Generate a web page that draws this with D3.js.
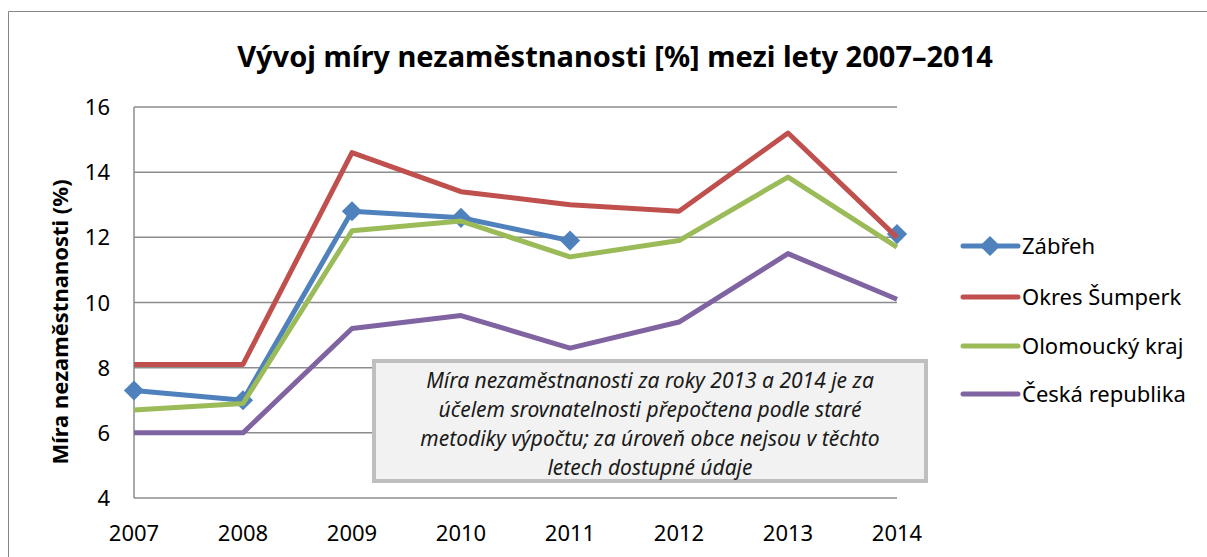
<!DOCTYPE html>
<html>
<head>
<meta charset="utf-8">
<script src="https://cdn.jsdelivr.net/npm/d3@7"></script>
<style>
  body { margin: 0; background: #fff; }
  svg { font-family: "Noto Sans", "Open Sans", sans-serif; }
</style>
</head>
<body>
<div id="chart"></div>
<script>
// data
var years = [2007, 2008, 2009, 2010, 2011, 2012, 2013, 2014];
var zabreh = [7.3, 7.0, 12.8, 12.6, 11.9, null, null, 12.1];
var sumperk = [8.1, 8.1, 14.6, 13.4, 13.0, 12.8, 15.2, 12.0];
var olomoucky = [6.7, 6.9, 12.2, 12.5, 11.4, 11.9, 13.85, 11.7];
var cr = [6.0, 6.0, 9.2, 9.6, 8.6, 9.4, 11.5, 10.1];
var seriesNames = ["Zábřeh", "Okres Šumperk", "Olomoucký kraj", "Česká republika"];
var yTicks = [4, 6, 8, 10, 12, 14, 16];
var noteLines = [
    "Míra nezaměstnanosti za roky 2013 a 2014 je za",
    "účelem srovnatelnosti přepočtena podle staré",
    "metodiky výpočtu; za úroveň obce nejsou v těchto",
    "letech dostupné údaje"
];

function init() {
    var w = 1207, h = 557;
    var colors = ["#4F81BD", "#C0504D", "#9BBB59", "#8064A2"];
    var allSeries = [zabreh, sumperk, olomoucky, cr];

    var svg = d3.select("#chart").append("svg")
        .attr("width", w)
        .attr("height", h);

    // outer chart border
    svg.append("path")
        .attr("d", "M8.5," + h + "V11.5H" + w)
        .attr("fill", "none")
        .attr("stroke", "#868686")
        .attr("stroke-width", 1);

    var x = d3.scalePoint().domain(years).range([134, 897]);
    var y = d3.scaleLinear().domain([4, 16]).range([498, 107]);

    // gridlines
    svg.append("g").selectAll("line")
        .data(yTicks)
        .join("line")
        .attr("x1", 134).attr("x2", 897)
        .attr("y1", d => y(d)).attr("y2", d => y(d))
        .attr("stroke", "#8c8c8c")
        .attr("stroke-width", 1.5);

    svg.append("line")
        .attr("x1", 134).attr("x2", 134)
        .attr("y1", y(16)).attr("y2", y(4))
        .attr("stroke", "#8c8c8c")
        .attr("stroke-width", 1.5);

    // y tick labels
    svg.append("g").selectAll("text")
        .data(yTicks)
        .join("text")
        .attr("x", 110)
        .attr("y", d => y(d) + 8)
        .attr("text-anchor", "end")
        .style("font-size", "22px")
        .text(d => d);

    // x tick labels
    svg.append("g").selectAll("text")
        .data(years)
        .join("text")
        .attr("x", d => x(d))
        .attr("y", 541)
        .attr("text-anchor", "middle")
        .style("font-size", "22px")
        .text(d => d);

    // title
    svg.append("text")
        .attr("x", 615)
        .attr("y", 67)
        .attr("text-anchor", "middle")
        .style("font-size", "29px")
        .style("font-weight", "bold")
        .text("Vývoj míry nezaměstnanosti [%] mezi lety 2007–2014");

    // y axis title
    svg.append("text")
        .attr("transform", "translate(68,322) rotate(-90)")
        .attr("text-anchor", "middle")
        .style("font-size", "22px")
        .style("font-weight", "bold")
        .text("Míra nezaměstnanosti (%)");

    // lines
    var line = d3.line()
        .defined(d => d != null)
        .x((d, i) => x(years[i]))
        .y(d => y(d));

    var diamond = d3.symbol().type(d3.symbolDiamond2).size(260);

    allSeries.forEach(function (s, k) {
        svg.append("path")
            .datum(s)
            .attr("d", line)
            .attr("fill", "none")
            .attr("stroke", colors[k])
            .attr("stroke-width", 5)
            .attr("stroke-linejoin", "round");
        if (k === 0) {
            svg.append("g").selectAll("path")
                .data(s.map((v, i) => [years[i], v]).filter(d => d[1] != null))
                .join("path")
                .attr("transform", d => "translate(" + x(d[0]) + "," + y(d[1]) + ")")
                .attr("d", diamond)
                .attr("fill", colors[0]);
        }
    });

    // note box
    svg.append("rect")
        .attr("x", 374).attr("y", 361)
        .attr("width", 552).attr("height", 120)
        .attr("fill", "#f2f2f2")
        .attr("stroke", "#bfbfbf")
        .attr("stroke-width", 4);

    svg.append("g").selectAll("text")
        .data(noteLines)
        .join("text")
        .attr("x", 650)
        .attr("y", (d, i) => 388 + i * 29)
        .attr("text-anchor", "middle")
        .style("font-size", "21px")
        .style("font-style", "italic")
        .attr("fill", "#1a1a1a")
        .text(d => d);

    // legend
    var legendY = [246, 297, 346, 394];
    var lg = svg.append("g").selectAll("g")
        .data(seriesNames)
        .join("g")
        .attr("transform", (d, i) => "translate(0," + legendY[i] + ")");

    lg.append("line")
        .attr("x1", 963).attr("x2", 1018)
        .attr("stroke", (d, i) => colors[i])
        .attr("stroke-width", 5)
        .attr("stroke-linecap", "round");

    lg.filter((d, i) => i === 0).append("path")
        .attr("transform", "translate(990,0)")
        .attr("d", diamond)
        .attr("fill", colors[0]);

    lg.append("text")
        .attr("x", 1022)
        .attr("y", 8)
        .style("font-size", "22px")
        .text(d => d);
}

window.onload = init;
</script>
</body>
</html>
